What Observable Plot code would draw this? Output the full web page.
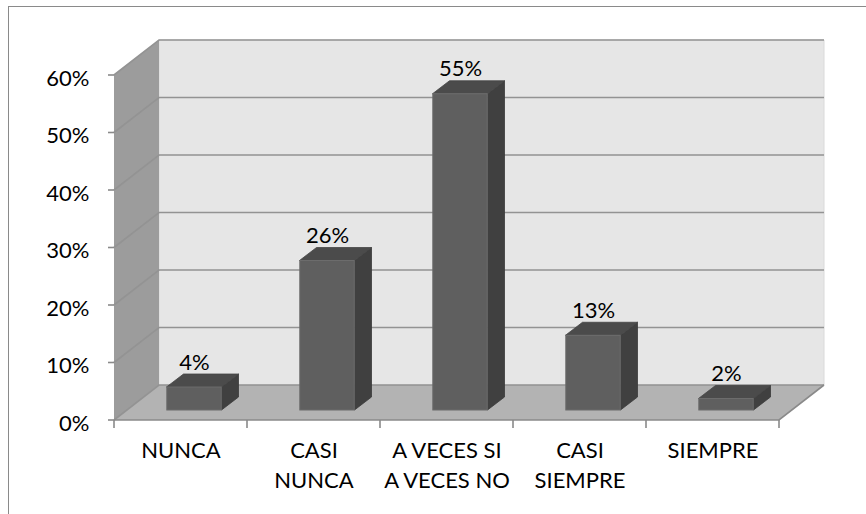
<!DOCTYPE html>
<html>
<head>
<meta charset="utf-8">
<script src="https://cdn.jsdelivr.net/npm/d3@7"></script>
<script src="https://cdn.jsdelivr.net/npm/@observablehq/plot@0.6"></script>
<style>
  html, body { margin: 0; padding: 0; background: #fff; overflow: hidden; }
  #wrap { position: relative; width: 866px; height: 514px; }
  #border { position: absolute; left: 8px; top: 6px; width: 900px; height: 600px; border: 1.5px solid #8a8a8a; box-sizing: border-box; }
  #chart { position: absolute; left: 0; top: 0; }
</style>
</head>
<body>
<div id="wrap"><div id="border"></div><div id="chart"></div></div>
<script>
// ---- data ----
const categories = ["NUNCA", "CASI NUNCA", "A VECES SI A VECES NO", "CASI SIEMPRE", "SIEMPRE"];
const tickLabels = ["NUNCA", "CASI\nNUNCA", "A VECES SI\nA VECES NO", "CASI\nSIEMPRE", "SIEMPRE"];
const values = [4, 26, 55, 13, 2];
const yTicks = [0, 10, 20, 30, 40, 50, 60];

const rows = categories.map((c, i) => ({cat: c, value: values[i]}));
const labelOf = new Map(categories.map((c, i) => [c, tickLabels[i]]));

// ---- 3D styling constants (pixels) ----
const DX = 45, DY = -35;      // depth of the plot box
const BW = 55;                // bar front width
const BOX = 13.5, BOY = -10;  // bar front offset (bars sit mid-depth)
const BDX = 17, BDY = -13;    // bar depth

const poly = pts => "M" + pts.map(p => p.join(",")).join("L") + "Z";

function scene(index, scales) {
  const {x, y} = scales;
  const bw = x.bandwidth();
  const L = x(categories[0]), R = x(categories[categories.length - 1]) + bw;
  const y0 = y(0), yT = y(yTicks[yTicks.length - 1]);
  const g = d3.create("svg:g");
  g.append("path").attr("d", poly([[L + DX, yT + DY], [R + DX, yT + DY], [R + DX, y0 + DY], [L + DX, y0 + DY]]))
    .attr("fill", "#e6e6e6").attr("stroke", "#dadada");
  g.append("path").attr("d", poly([[L, yT], [L + DX, yT + DY], [L + DX, y0 + DY], [L, y0]]))
    .attr("fill", "#9c9c9c");
  g.append("path").attr("d", poly([[L, y0], [R, y0], [R + DX, y0 + DY], [L + DX, y0 + DY]]))
    .attr("fill", "#b3b3b3");
  for (const t of yTicks) {
    const yy = y(t);
    g.append("path").attr("d", `M${L},${yy}L${L + DX},${yy + DY}L${R + DX},${yy + DY}`)
      .attr("fill", "none").attr("stroke", "#939393").attr("stroke-width", 1.6);
    // y tick mark
    g.append("line").attr("x1", L - 6).attr("x2", L).attr("y1", yy).attr("y2", yy)
      .attr("stroke", "#8a8a8a").attr("stroke-width", 1.6);
  }
  g.append("path").attr("d", `M${L},${y0}L${R},${y0}L${R + DX},${y0 + DY}`)
    .attr("fill", "none").attr("stroke", "#8a8a8a").attr("stroke-width", 1.6);
  const edges = categories.map(c => x(c)).concat([R]);
  for (const e of edges) {
    g.append("line").attr("x1", e).attr("x2", e).attr("y1", y0).attr("y2", y0 + 8)
      .attr("stroke", "#8a8a8a").attr("stroke-width", 1.6);
  }
  return g.node();
}

function barSides(index, scales) {
  const {x, y} = scales;
  const bw = x.bandwidth();
  const g = d3.create("svg:g");
  for (const d of rows) {
    const x1 = x(d.cat) + bw / 2 + BOX - BW / 2, x2 = x1 + BW;
    const yt = y(d.value) + BOY, yb = y(0) + BOY;
    g.append("path").attr("d", poly([[x2, yt], [x2 + BDX, yt + BDY], [x2 + BDX, yb + BDY], [x2, yb]]))
      .attr("fill", "#404040").attr("stroke", "#3a3a3a").attr("stroke-width", 0.8);
    g.append("path").attr("d", poly([[x1, yt], [x2, yt], [x2 + BDX, yt + BDY], [x1 + BDX, yt + BDY]]))
      .attr("fill", "#4b4b4b").attr("stroke", "#454545").attr("stroke-width", 0.8);
  }
  return g.node();
}

const chart = Plot.plot({
  width: 866,
  height: 514,
  marginLeft: 112,
  marginRight: 86,
  marginTop: 75,
  marginBottom: 94,
  style: {fontFamily: "Lato, 'Open Sans', sans-serif", fontSize: "22px", color: "#000", background: "transparent", overflow: "visible"},
  x: {domain: categories, padding: 0, label: null},
  y: {domain: [0, 60], label: null, axis: null},
  marks: [
    scene,
    barSides,
    Plot.barY(rows, {x: "cat", y: "value", fill: "#5f5f5f", stroke: "#6c6c6c", strokeWidth: 1,
      dx: BOX, dy: BOY, insetLeft: (133.6 - BW) / 2, insetRight: (133.6 - BW) / 2}),
    Plot.text(rows, {x: "cat", y: "value", text: d => d.value + "%", dx: BOX, dy: BOY - 18,
      lineAnchor: "bottom", fontSize: 22, fill: "#000"}),
    Plot.text(yTicks, {y: d => d, text: d => d + "%", frameAnchor: "left", textAnchor: "end",
      dx: -23, dy: 3, fontSize: 22, fill: "#000"}),
    Plot.axisX({tickSize: 0, tickPadding: 16, lineHeight: 1.36, fontSize: 22,
      tickFormat: d => labelOf.get(d), label: null})
  ]
});
document.getElementById("chart").appendChild(chart);
</script>
</body>
</html>
